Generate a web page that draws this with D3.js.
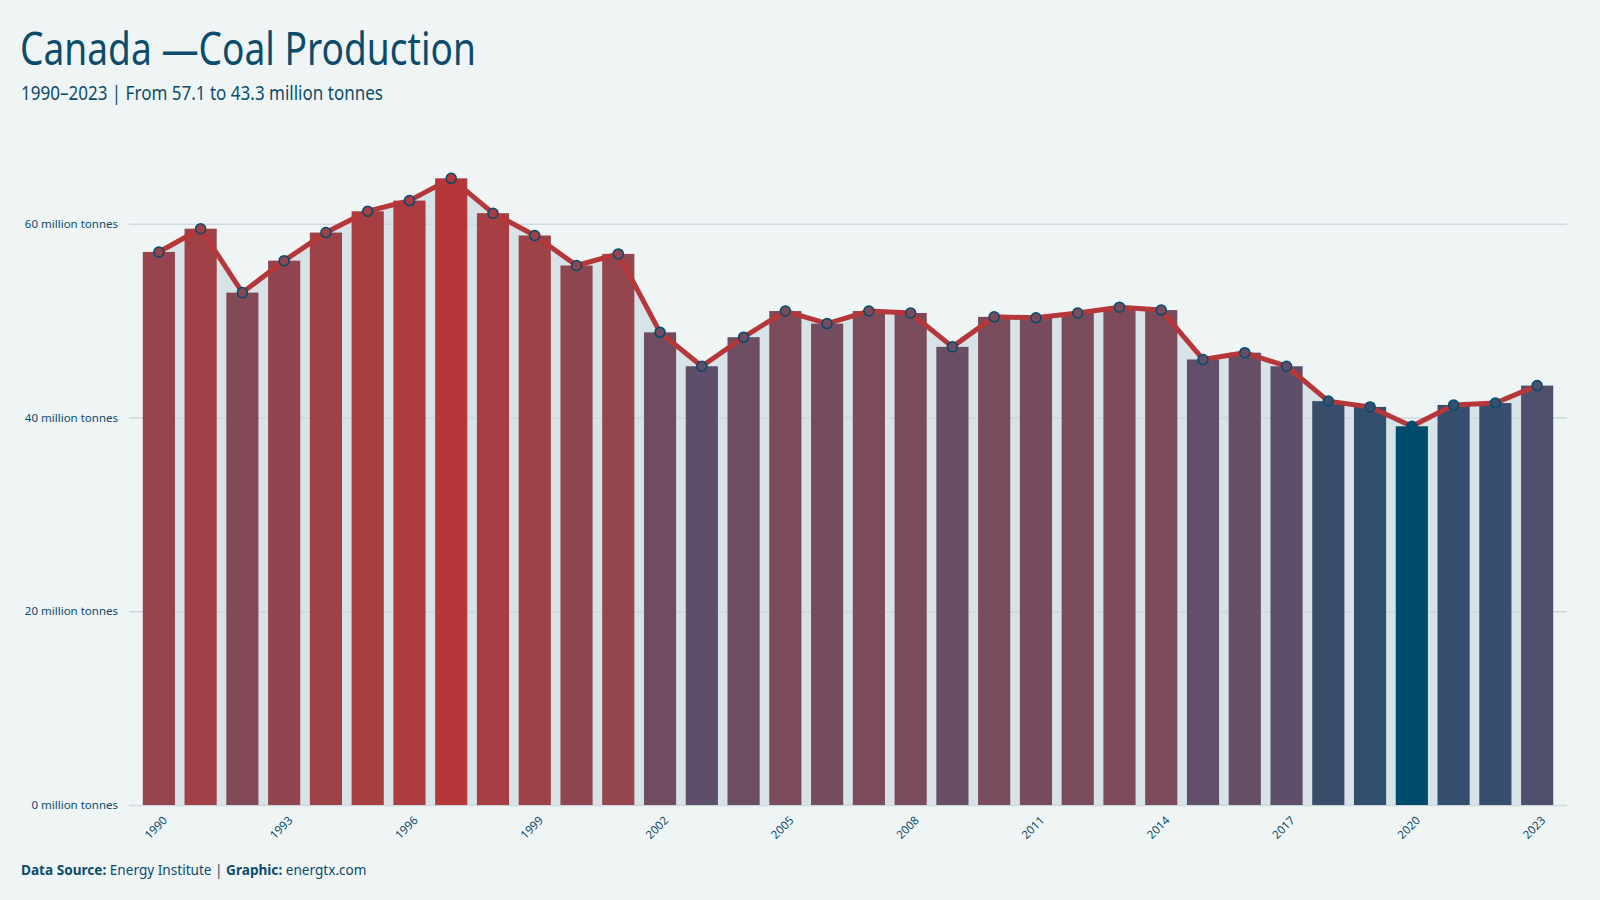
<!DOCTYPE html>
<html lang="en">
<head>
    <meta charset="UTF-8">
    <title>Canada Coal Production</title>
    <script src="https://d3js.org/d3.v7.min.js"></script>
    <style>
        body {
            margin: 0;
            background: #eff5f5;
        }

        .title {
            font-family: "Ubuntu Condensed", "Liberation Sans Narrow", "Noto Sans", sans-serif;
            fill: #0d4b6b;
        }

        .tick text {
            font-family: "Noto Sans", sans-serif;
            fill: #0d4b6b;
        }

        .footer {
            font-family: "Noto Sans", sans-serif;
            font-size: 13.6px;
            fill: #0d4b6b;
        }
    </style>
</head>

<body>
<svg id="chart"></svg>

<script>
    const width = 1600;
    const height = 900;

    const years = d3.range(1990, 2024);
    // million tonnes
    const production = [57.1, 59.5, 52.9, 56.2, 59.1, 61.3, 62.4, 64.7, 61.1, 58.8,
        55.7, 56.9, 48.8, 45.3, 48.3, 51.0, 49.7, 51.0, 50.8, 47.3,
        50.4, 50.3, 50.8, 51.4, 51.1, 46.0, 46.7, 45.3, 41.7, 41.1,
        39.1, 41.3, 41.5, 43.3];
    const yTicks = [0, 20, 40, 60];
    const xTicks = years.filter((d, i) => i % 3 === 0);

    const data = years.map((y, i) => ({year: y, value: production[i]}));

    const svg = d3.select("#chart")
        .attr("width", width)
        .attr("height", height);

    const margin = {left: 129, right: 33, top: 147, bottom: 95};

    const x = d3.scaleBand()
        .domain(years)
        .range([margin.left, width - margin.right])
        .paddingInner(0.23)
        .paddingOuter(0.33);

    const maxVal = d3.max(production);
    const minVal = d3.min(production);
    const y = d3.scaleLinear()
        .domain([0, maxVal * 1.05])
        .range([height - margin.bottom, margin.top]);

    // low -> blue, high -> red, with a muted violet stop near the low end
    const colors = d3.scaleLinear()
        .domain([minVal, minVal + 0.2 * (maxVal - minVal), maxVal])
        .range(["#004c6d", "#574f6c", "#b5373a"])
        .interpolate(d3.interpolateLab);

    const cx = d => x(d.year) + x.bandwidth() / 2;

    // area behind bars
    svg.append("path")
        .datum(data)
        .attr("fill", "#d7e3e7")
        .attr("d", d3.area().x(cx).y0(y(0)).y1(d => y(d.value)));

    // y axis with gridlines
    const yAxis = svg.append("g")
        .attr("transform", `translate(${margin.left},0)`)
        .call(d3.axisLeft(y)
            .tickValues(yTicks)
            .tickSize(0)
            .tickFormat(d => d + " million tonnes"));
    yAxis.select(".domain").remove();
    yAxis.selectAll(".tick line")
        .attr("stroke", "#cdd9dd")
        .attr("stroke-width", 1.5)
        .attr("x2", width - margin.left - 33);
    yAxis.selectAll(".tick text")
        .attr("x", -11)
        .style("font-size", "11.5px");

    // bars
    svg.append("g")
        .selectAll("rect")
        .data(data)
        .join("rect")
        .attr("x", d => x(d.year))
        .attr("y", d => y(d.value))
        .attr("width", x.bandwidth())
        .attr("height", d => y(0) - y(d.value))
        .attr("fill", d => colors(d.value));

    // line
    svg.append("path")
        .datum(data)
        .attr("fill", "none")
        .attr("stroke", "#b5373a")
        .attr("stroke-width", 5)
        .attr("stroke-linejoin", "round")
        .attr("d", d3.line().x(cx).y(d => y(d.value)));

    svg.append("g")
        .selectAll("circle")
        .data(data)
        .join("circle")
        .attr("cx", cx)
        .attr("cy", d => y(d.value))
        .attr("r", 5)
        .attr("fill", d => colors(d.value))
        .attr("stroke", "#004c6d")
        .attr("stroke-width", 1.5);

    // x axis
    const xAxis = svg.append("g")
        .attr("transform", `translate(0,${y(0)})`)
        .call(d3.axisBottom(x).tickValues(xTicks).tickSize(0));
    xAxis.select(".domain").remove();
    xAxis.selectAll(".tick text")
        .attr("text-anchor", "end")
        .attr("dy", 0)
        .attr("transform", "translate(7,14) rotate(-45)")
        .style("font-size", "11.5px");

    // titles, squeezed to the narrow width of the original condensed face
    svg.append("text")
        .attr("class", "title")
        .attr("x", 20)
        .attr("y", 65)
        .attr("textLength", 456)
        .attr("lengthAdjust", "spacingAndGlyphs")
        .style("font-size", "46px")
        .text("Canada \u2014Coal Production");

    svg.append("text")
        .attr("class", "title")
        .attr("x", 21)
        .attr("y", 100)
        .attr("textLength", 362)
        .attr("lengthAdjust", "spacingAndGlyphs")
        .style("font-size", "20px")
        .text("1990\u20132023 | From 57.1 to 43.3 million tonnes");

    const foot = svg.append("text")
        .attr("class", "footer")
        .attr("x", 21)
        .attr("y", 875);
    foot.append("tspan").attr("font-weight", "bold").text("Data Source:");
    foot.append("tspan").text(" Energy Institute | ");
    foot.append("tspan").attr("font-weight", "bold").text("Graphic:");
    foot.append("tspan").text(" energtx.com");
</script>
</body>
</html>
